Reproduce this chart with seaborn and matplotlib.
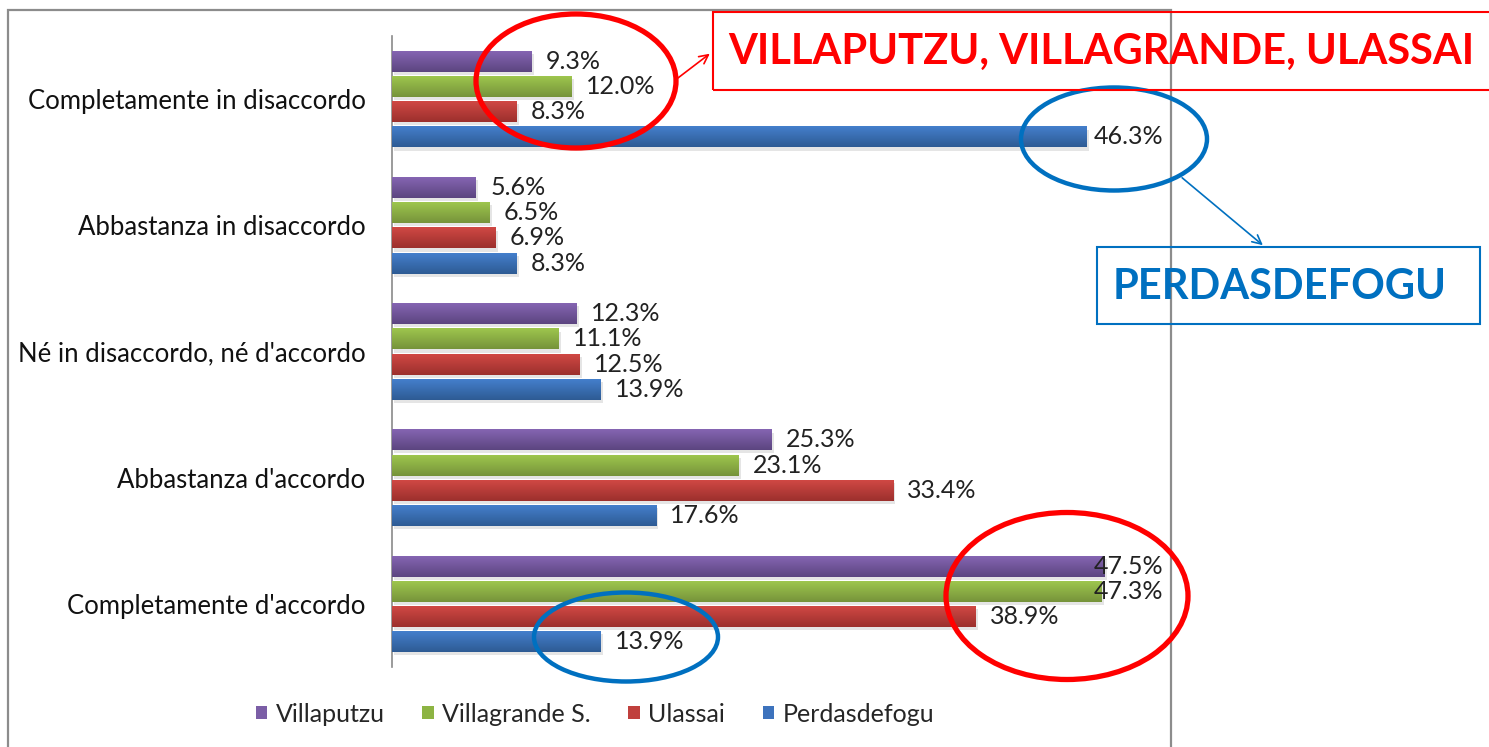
import numpy as np
import pandas as pd
import matplotlib
matplotlib.use('Agg')
import matplotlib.pyplot as plt
import seaborn as sns
from matplotlib.patches import Ellipse, Rectangle, Patch, FancyArrowPatch
from matplotlib.colors import LinearSegmentedColormap

# dati (percentuali per risposta)
categories = ["Completamente in disaccordo", "Abbastanza in disaccordo",
              "Né in disaccordo, né d'accordo", "Abbastanza d'accordo",
              "Completamente d'accordo"]
comuni = ["Villaputzu", "Villagrande S.", "Ulassai", "Perdasdefogu"]
villaputzu = [9.3, 5.6, 12.3, 25.3, 47.5]
villagrande = [12.0, 6.5, 11.1, 23.1, 47.3]
ulassai = [8.3, 6.9, 12.5, 33.4, 38.9]
perdasdefogu = [46.3, 8.3, 13.9, 17.6, 13.9]

# colori stile Office (base, chiaro in alto, scuro in basso)
col_base = ["#7B5EA6", "#8DB443", "#C0403D", "#3D73BD"]
col_top = ["#8565B2", "#9EC64E", "#D04844", "#447FCC"]
col_bottom = ["#5C4580", "#76933A", "#9C302D", "#2E5B94"]

W, H = 1489, 747


def fx(x):
    return x / W


def fy(y):
    return 1 - y / H


df = pd.DataFrame({
    "Risposta": categories * 4,
    "Comune": np.repeat(comuni, len(categories)),
    "Valore": villaputzu + villagrande + ulassai + perdasdefogu,
})

sns.set_style("white")
plt.rcParams['font.family'] = ['Lato', 'DejaVu Sans']

fig = plt.figure(figsize=(W / 100, H / 100), dpi=100)
fig.patch.set_facecolor('white')
ax = fig.add_axes([392 / W, (H - 667) / H, 750 / W, 631 / H])

sns.barplot(data=df, y="Risposta", x="Valore", hue="Comune", hue_order=comuni,
            order=categories, orient='h', width=0.8, gap=0.17, palette=col_base,
            saturation=1, errorbar=None, legend=False, ax=ax)

# barre con sfumatura + etichette
grad = np.linspace(0, 1, 64).reshape(-1, 1)
for i, cont in enumerate(ax.containers):
    cmap = LinearSegmentedColormap.from_list(f"g{i}", [col_top[i], col_bottom[i]])
    for bar in cont:
        x0, y0 = bar.get_x(), bar.get_y()
        w, h = bar.get_width(), bar.get_height()
        ax.add_patch(Rectangle((x0 + 0.15, y0 + 0.025), w, h, color='black',
                               alpha=0.10, lw=0, zorder=2))
        ax.imshow(grad, cmap=cmap, extent=(x0, x0 + w, y0 + h, y0), origin='upper',
                  aspect='auto', zorder=3, interpolation='bilinear')
        bar.set_facecolor('none')
        bar.set_edgecolor('none')
        yc = y0 + h / 2
        if w > 45:
            ax.text(51.4, yc, f"{w:.1f}%", ha='right', va='center', fontsize=18,
                    color='#222222', zorder=5, clip_on=False)
        else:
            ax.text(w + 0.95, yc, f"{w:.1f}%", ha='left', va='center', fontsize=18,
                    color='#222222', zorder=5, clip_on=False)

ax.set_xlim(0, 50)
ax.set_ylim(len(categories) - 0.5, -0.5)
ax.set_xlabel('')
ax.set_ylabel('')
ax.set_xticks([])
ax.tick_params(axis='y', length=0, pad=19, labelsize=18.5, labelcolor='#111111')
for s in ['top', 'right', 'bottom']:
    ax.spines[s].set_visible(False)
ax.spines['left'].set_color('#8a8a8a')
ax.spines['left'].set_linewidth(1.2)

# legenda
handles = [Patch(facecolor=c, edgecolor='none') for c in col_base]
fig.legend(handles=handles, labels=comuni, loc='center',
           bbox_to_anchor=(fx(595), fy(714)), ncol=4, frameon=False,
           handlelength=0.45, handleheight=0.45, handletextpad=0.35,
           columnspacing=1.5, fontsize=18)

# cornice del grafico
fig.add_artist(Rectangle((fx(8), fy(765)), 1163 / W, 755 / H, transform=fig.transFigure,
                         fill=False, ec='#8c8c8c', lw=1.6))

# evidenziazioni
red = '#FF0000'
blue = '#0070C0'
fig.add_artist(Ellipse((fx(576), fy(81)), 200 / W, 134 / H, transform=fig.transFigure,
                       fill=False, ec=red, lw=3.8))
fig.add_artist(Ellipse((fx(1067), fy(596)), 242 / W, 167 / H, transform=fig.transFigure,
                       fill=False, ec=red, lw=3.8))
fig.add_artist(Ellipse((fx(1114), fy(139)), 186 / W, 103 / H, transform=fig.transFigure,
                       fill=False, ec=blue, lw=3.2))
fig.add_artist(Ellipse((fx(626), fy(637)), 184 / W, 89 / H, transform=fig.transFigure,
                       fill=False, ec=blue, lw=3.2))

fig.add_artist(Rectangle((fx(713), fy(90)), 790 / W, 78 / H, transform=fig.transFigure,
                         fill=False, ec=red, lw=1.5))
fig.text(fx(1101), fy(52), "VILLAPUTZU, VILLAGRANDE, ULASSAI", ha='center', va='center',
         fontsize=30, fontweight='bold', color=red)
fig.add_artist(Rectangle((fx(1097), fy(324)), 383 / W, 77 / H, transform=fig.transFigure,
                         fill=False, ec=blue, lw=1.5))
fig.text(fx(1280), fy(287), "PERDASDEFOGU", ha='center', va='center',
         fontsize=30, fontweight='bold', color=blue)

fig.add_artist(FancyArrowPatch((fx(674), fy(81)), (fx(712), fy(52)),
                               transform=fig.transFigure, arrowstyle='->',
                               mutation_scale=16, color=red, lw=1.2))
fig.add_artist(FancyArrowPatch((fx(1180), fy(176)), (fx(1265), fy(247)),
                               transform=fig.transFigure, arrowstyle='->',
                               mutation_scale=16, color=blue, lw=1.2))

fig.savefig('out.png', dpi=100, facecolor='white')
